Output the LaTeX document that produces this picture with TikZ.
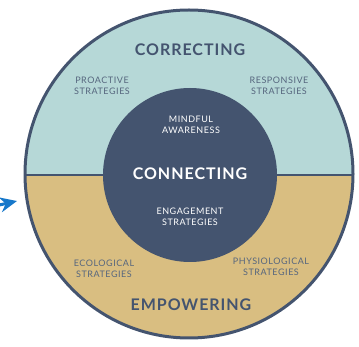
\documentclass[tikz,border=0pt]{standalone}
\usepackage{fontspec}
\setmainfont{Lato}
\newfontfamily\spacedfont{Lato}[LetterSpace=6]
\usetikzlibrary{arrows.meta}
\definecolor{cteal}{HTML}{B6D8D7}
\definecolor{ctan}{HTML}{D9BE81}
\definecolor{cnavy}{HTML}{44546F}
\definecolor{cgrey}{HTML}{56667E}
\definecolor{cblue}{HTML}{1778CA}

\begin{document}
\begin{tikzpicture}[x=1pt,y=-1pt,
    head/.style={text=cnavy,font=\spacedfont\bfseries\fontsize{16}{18}\selectfont},
    small/.style={text=cgrey,align=center,font=\spacedfont\fontsize{9}{11.5}\selectfont},
    inner/.style={text=white,align=center,font=\spacedfont\fontsize{9}{11.5}\selectfont}]
    \useasboundingbox (0,0) rectangle (359,347);

    % the two halves
    \fill[ctan] (189,174) circle (164);
    \fill[cteal] (25,175) arc (180:360:164) -- cycle;
    \draw[cnavy, line width=2.5] (25,175) -- (353,175);
    \draw[cnavy, line width=3] (189,174) circle (164);

    % centre
    \fill[cnavy] (190,175) circle (87);

    \node[head] (correcting) at (190,50) {CORRECTING};
    \node[small] (proactive) at (102,86) {PROACTIVE\\STRATEGIES};
    \node[small] (responsive) at (279,86) {RESPONSIVE\\STRATEGIES};

    \node[inner] (mindful) at (191,125) {MINDFUL\\AWARENESS};
    \node[head,text=white] (connecting) at (190,174) {CONNECTING};
    \node[inner] (engagement) at (190,217) {ENGAGEMENT\\STRATEGIES};

    \node[small] (ecological) at (104,269) {ECOLOGICAL\\STRATEGIES};
    \node[small] (physiological) at (271,267) {PHYSIOLOGICAL\\STRATEGIES};
    \node[head] (empowering) at (191,305) {EMPOWERING};

    % pointer at the left
    \coordinate (tail) at (-14,208);
    \coordinate (tip) at (17,201);
    \draw[cblue, line width=3, -{Stealth[length=17,width=15]}] (tail) -- (tip);
\end{tikzpicture}
\end{document}
